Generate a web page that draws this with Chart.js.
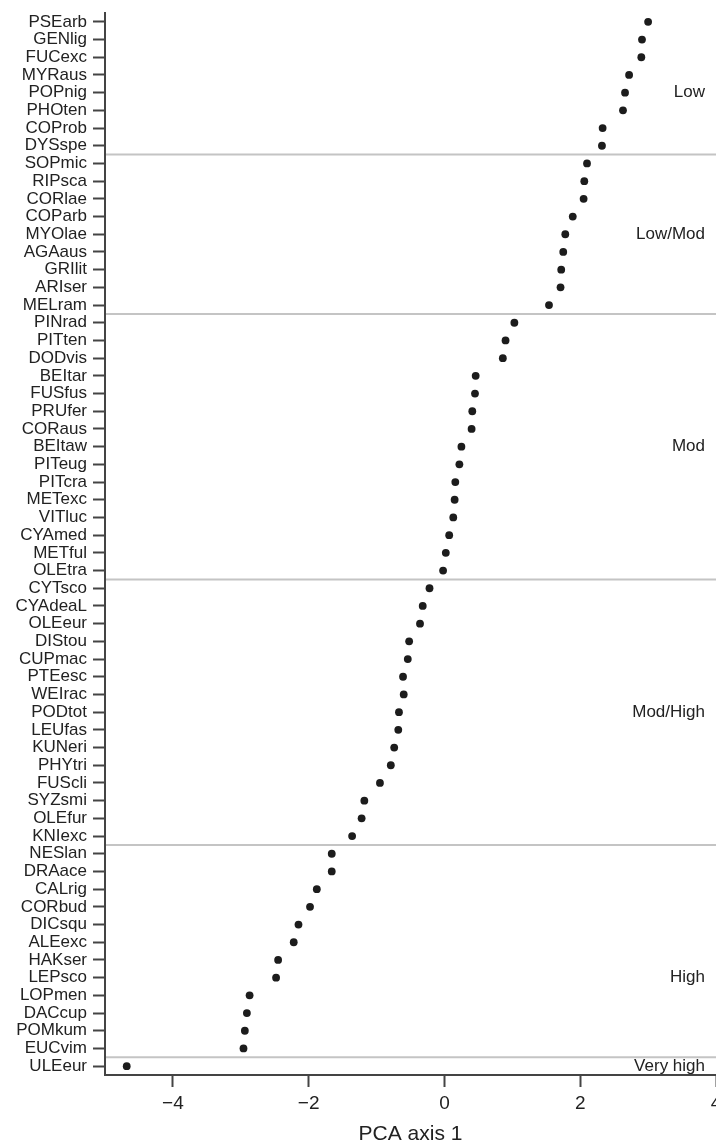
<!DOCTYPE html>
<html>
<head>
<meta charset="utf-8">
<script src="https://cdn.jsdelivr.net/npm/chart.js@4"></script>
<style>
  html, body { margin: 0; padding: 0; background: #fff; overflow: hidden; }
  #wrap { width: 716px; height: 1145px; }
</style>
</head>
<body>
<div id="wrap"><canvas id="chart" width="716" height="1145"></canvas></div>
<script>
// species codes, top to bottom
const SPECIES = [
  'PSEarb','GENlig','FUCexc','MYRaus','POPnig','PHOten','COProb','DYSspe',
  'SOPmic','RIPsca','CORlae','COParb','MYOlae','AGAaus','GRIlit','ARIser','MELram',
  'PINrad','PITten','DODvis','BEItar','FUSfus','PRUfer','CORaus','BEItaw','PITeug','PITcra','METexc','VITluc','CYAmed','METful','OLEtra',
  'CYTsco','CYAdeaL','OLEeur','DIStou','CUPmac','PTEesc','WEIrac','PODtot','LEUfas','KUNeri','PHYtri','FUScli','SYZsmi','OLEfur','KNIexc',
  'NESlan','DRAace','CALrig','CORbud','DICsqu','ALEexc','HAKser','LEPsco','LOPmen','DACcup','POMkum','EUCvim',
  'ULEeur'
];

// PCA axis 1 scores
const PCA1 = [
  3.00, 2.91, 2.90, 2.72, 2.66, 2.63, 2.33, 2.32,
  2.10, 2.06, 2.05, 1.89, 1.78, 1.75, 1.72, 1.71, 1.54,
  1.03, 0.90, 0.86, 0.46, 0.45, 0.41, 0.40, 0.25, 0.22, 0.16, 0.15, 0.13, 0.07, 0.02, -0.02,
  -0.22, -0.32, -0.36, -0.52, -0.54, -0.61, -0.60, -0.67, -0.68, -0.74, -0.79, -0.95, -1.18, -1.22, -1.36,
  -1.66, -1.66, -1.88, -1.98, -2.15, -2.22, -2.45, -2.48, -2.87, -2.91, -2.94, -2.96,
  -4.68
];

const GROUPS = ['Low', 'Low/Mod', 'Mod', 'Mod/High', 'High', 'Very high'];
const GROUP_SIZES = [8, 9, 15, 15, 12, 1];
const GROUP_LABEL_ROWS = [4, 12, 24, 39, 54, 59];

const X_MIN = -5, X_MAX = 4;
const X_TICKS = [-4, -2, 0, 2, 4];

const FONT = '"Liberation Sans", Arial, Helvetica, sans-serif';
const INK = '#222';
const AXIS = '#444';

// boundaries between groups sit half a row between the last and first species
let run = 0;
const BOUNDS = GROUP_SIZES.slice(0, -1).map(n => (run += n) - 0.5);

const groupLabels = {
  id: 'groupLabels',
  afterDatasetsDraw(chart) {
    const { ctx, chartArea, scales } = chart;
    ctx.save();
    ctx.font = '17px ' + FONT;
    ctx.fillStyle = INK;
    ctx.textAlign = 'right';
    ctx.textBaseline = 'middle';
    GROUPS.forEach((g, i) => {
      ctx.fillText(g, chartArea.right - 11, scales.y.getPixelForValue(GROUP_LABEL_ROWS[i]));
    });
    ctx.restore();
  }
};

const datasets = [{
  data: SPECIES.map((s, i) => ({ x: PCA1[i], y: i })),
  backgroundColor: '#1c1c1c',
  borderWidth: 0,
  pointRadius: 3.9
}].concat(BOUNDS.map(b => ({
  data: [{ x: X_MIN, y: b }, { x: X_MAX, y: b }],
  showLine: true,
  borderColor: '#c4c4c4',
  borderWidth: 2,
  pointRadius: 0
})));

new Chart(document.getElementById('chart'), {
  type: 'scatter',
  data: { datasets },
  plugins: [groupLabels],
  options: {
    responsive: false,
    animation: false,
    devicePixelRatio: 1,
    layout: { autoPadding: false, padding: { top: 13, left: 0, right: 0, bottom: 0 } },
    plugins: { legend: { display: false }, tooltip: { enabled: false } },
    scales: {
      x: {
        type: 'linear',
        min: X_MIN,
        max: X_MAX,
        afterBuildTicks: s => { s.ticks = X_TICKS.map(v => ({ value: v })); },
        afterFit: s => { s.height = 70; s.paddingLeft = 0; s.paddingRight = 0; },
        ticks: {
          color: INK,
          font: { family: FONT, size: 19 },
          padding: 5,
          maxRotation: 0,
          autoSkip: false,
          callback: v => String(v).replace('-', '\u2212')
        },
        grid: { drawOnChartArea: false, drawTicks: true, tickLength: 12, color: AXIS, tickColor: AXIS, tickWidth: 2 },
        border: { display: true, color: AXIS, width: 2, z: 1 },
        title: {
          display: true,
          text: 'PCA axis 1',
          color: INK,
          font: { family: FONT, size: 21, lineHeight: 1 },
          padding: { top: 0, bottom: 0 }
        }
      },
      y: {
        type: 'linear',
        reverse: true,
        min: -0.5,
        max: SPECIES.length - 0.5,
        afterBuildTicks: s => { s.ticks = SPECIES.map((_, i) => ({ value: i })); },
        afterFit: s => { s.width = 105; s.paddingTop = 0; s.paddingBottom = 0; },
        ticks: {
          color: INK,
          font: { family: FONT, size: 17 },
          padding: 6,
          autoSkip: false,
          callback: v => SPECIES[v]
        },
        grid: { drawOnChartArea: false, drawTicks: true, tickLength: 12, color: AXIS, tickColor: AXIS, tickWidth: 2 },
        border: { display: true, color: AXIS, width: 2, z: 1 }
      }
    }
  }
});
</script>
</body>
</html>
